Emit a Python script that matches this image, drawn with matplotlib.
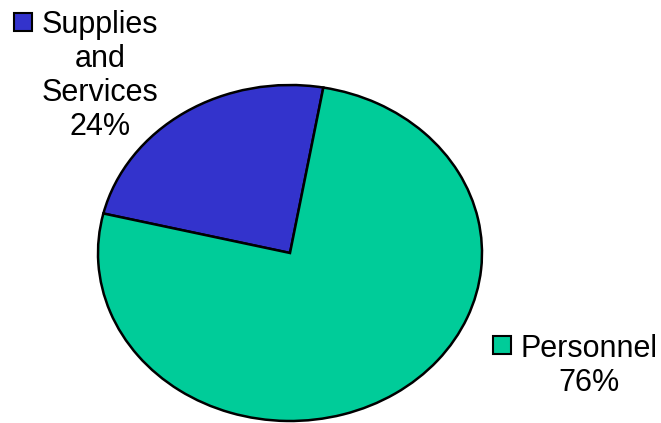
import matplotlib
matplotlib.use("Agg")
from matplotlib import pyplot as plt

categories = ["Supplies\nand\nServices", "Personnel"]
shares = [24, 76]
colors = ["#3333CC", "#00CC99"]

W, H = 661, 423
plt.rcParams["font.family"] = ["Liberation Sans", "DejaVu Sans"]

fig = plt.figure(figsize=(W / 100, H / 100), dpi=100)
ax = fig.add_axes([0, 0, 1, 1])
ax.pie(shares, colors=colors, startangle=80, counterclock=True,
       wedgeprops=dict(edgecolor="black", linewidth=1.8))
# the original is a circle stretched sideways, so use different x and y scales
cx, cy, rx, ry = 290, 253, 192, 168
ax.set_aspect("auto")
ax.set_xlim(-cx / rx, (W - cx) / rx)
ax.set_ylim(-(H - cy) / ry, cy / ry)
ax.axis("off")


def px(x, y):
    return x / W, 1 - y / H


# label blocks: (text centre x, cap top y, square centre x, square centre y)
spots = [(100, 10, 23, 22.5), (589, 334, 502, 345)]
for name, share, col, (tx, ty, sx, sy) in zip(categories, shares, colors, spots):
    ax.text(*px(tx, ty), f"{name}\n{share}%", transform=ax.transAxes,
            ha="center", va="top", multialignment="center",
            fontsize=22, linespacing=1.18)
    ax.plot(*px(sx, sy), marker="s", ms=13, mfc=col, mec="black", mew=1.5,
            transform=ax.transAxes, clip_on=False)

fig.savefig("out.png", dpi=100)
